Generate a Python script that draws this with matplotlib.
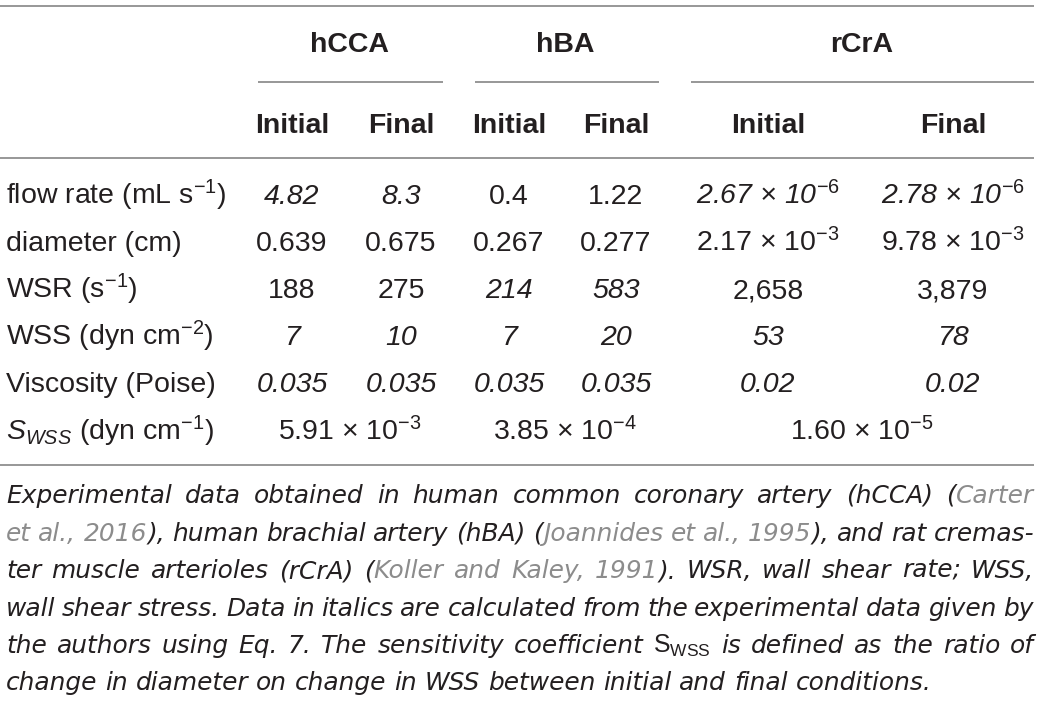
import matplotlib
matplotlib.use("Agg")
import matplotlib.pyplot as plt

plt.rcParams['font.family'] = ['Liberation Sans', 'DejaVu Sans']
plt.rcParams['mathtext.fontset'] = 'custom'
plt.rcParams['mathtext.rm'] = 'Liberation Sans'
plt.rcParams['mathtext.it'] = 'Liberation Sans:italic'
plt.rcParams['mathtext.bf'] = 'Liberation Sans:bold'

# table content
groups = ["hCCA", "hBA", "rCrA"]
subcols = ["Initial", "Final", "Initial", "Final", "Initial", "Final"]
row_labels = [
    "flow rate (mL s$^{-1}$)",
    "diameter (cm)",
    "WSR (s$^{-1}$)",
    "WSS (dyn cm$^{-2}$)",
    "Viscosity (Poise)",
    "$\\mathit{S}_{\\mathit{WSS}}$ (dyn cm$^{-1}$)",
]
flow_rate = ["4.82", "8.3", "0.4", "1.22",
             "2.67 × 10$^{\\mathit{-6}}$", "2.78 × 10$^{\\mathit{-6}}$"]
flow_rate_it = [1, 1, 0, 0, 1, 1]
diameter = ["0.639", "0.675", "0.267", "0.277",
            "2.17 × 10$^{-3}$", "9.78 × 10$^{-3}$"]
diameter_it = [0, 0, 0, 0, 0, 0]
wsr = ["188", "275", "214", "583", "2,658", "3,879"]
wsr_it = [0, 0, 1, 1, 0, 0]
wss = ["7", "10", "7", "20", "53", "78"]
wss_it = [1, 1, 1, 1, 1, 1]
viscosity = ["0.035", "0.035", "0.035", "0.035", "0.02", "0.02"]
viscosity_it = [1, 1, 1, 1, 1, 1]
s_wss = ["5.91 × 10$^{-3}$", "3.85 × 10$^{-4}$", "1.60 × 10$^{-5}$"]

rows = [(flow_rate, flow_rate_it), (diameter, diameter_it), (wsr, wsr_it),
        (wss, wss_it), (viscosity, viscosity_it)]

# <...> marks the grey reference text
caption = [
    "Experimental data obtained in human common coronary artery (hCCA) (<Carter>",
    "<et al., 2016>), human brachial artery (hBA) (<Joannides et al., 1995>), and rat cremas-",
    "ter muscle arterioles (rCrA) (<Koller and Kaley, 1991>). WSR, wall shear rate; WSS,",
    "wall shear stress. Data in italics are calculated from the experimental data given by",
    "the authors using Eq. 7. The sensitivity coefficient $\\mathrm{S}_{\\mathrm{WSS}}$ is defined as the ratio of",
    "change in diameter on change in WSS between initial and final conditions.",
]

# layout (pixels)
col_x = [292, 401, 509, 616, 768, 953]
group_x = [350, 565, 862]
group_span = [(258, 443), (475, 659), (691, 1034)]
row_y = [204, 251, 298, 345, 392, 440]
cap_y = [503, 541, 578, 616, 653, 690]
fs = 20.5
cap_fs = 17.9
cap_font = ['DejaVu Sans']
ink = '#231f20'
ref_gray = '#8c8c8c'
rule = '#7a7a7a'

fig = plt.figure(figsize=(10.43, 7.01), dpi=100)
ax = fig.add_axes([0, 0, 1, 1])
ax.set_xlim(0, 1043)
ax.set_ylim(701, 0)
ax.axis('off')

# rules
for y in [6, 158, 465]:
    ax.plot([0, 1034], [y, y], color=rule, lw=1.1, solid_capstyle='butt')
for x0, x1 in group_span:
    ax.plot([x0, x1], [82, 82], color=rule, lw=1.1, solid_capstyle='butt')

# headers
for g, x in zip(groups, group_x):
    ax.text(x, 52, g, ha='center', va='baseline', fontsize=fs,
            fontweight='bold', color=ink)
for s, x in zip(subcols, col_x):
    ax.text(x, 133, s, ha='center', va='baseline', fontsize=fs,
            fontweight='bold', color=ink)

# body
for lab, y in zip(row_labels, row_y):
    ax.text(6, y, lab, ha='left', va='baseline', fontsize=fs, color=ink)
for (vals, its), y in zip(rows, row_y):
    for v, it, x in zip(vals, its, col_x):
        ax.text(x, y, v, ha='center', va='baseline', fontsize=fs, color=ink,
                style='italic' if it else 'normal')
for v, x in zip(s_wss, group_x):
    ax.text(x, row_y[5], v, ha='center', va='baseline', fontsize=fs, color=ink)

# caption, justified word by word
r = fig.canvas.get_renderer()


def parse_words(line):
    cur = ''
    color = ink
    words = []
    word = []
    for ch in line:
        if ch in '<>':
            if cur:
                word.append((cur, color))
            cur = ''
            color = ref_gray if ch == '<' else ink
        elif ch == ' ':
            if cur:
                word.append((cur, color))
            cur = ''
            if word:
                words.append(word)
            word = []
        else:
            cur += ch
    if cur:
        word.append((cur, color))
    if word:
        words.append(word)
    return words


def cap_text(x, y, s, color=ink):
    return ax.text(x, y, s, fontsize=cap_fs, style='italic', color=color,
                   family=cap_font, ha='left', va='baseline')


def text_w(s):
    t = cap_text(0, 0, s)
    w = t.get_window_extent(renderer=r).width
    t.remove()
    return w


space_w = text_w('a a') - text_w('aa')
left, right = 6, 1034
for i, (line, y) in enumerate(zip(caption, cap_y)):
    words = parse_words(line)
    widths = [text_w(''.join(s for s, c in w)) for w in words]
    if i < len(caption) - 1:
        gap = (right - left - sum(widths)) / (len(words) - 1)
    else:
        gap = space_w
    x = left
    for w, ww in zip(words, widths):
        acc = ''
        for s, c in w:
            acc += s
            sx = x + text_w(acc) - text_w(s)
            cap_text(sx, y, s, c)
        x += ww + gap

fig.savefig('out.png', dpi=100)
